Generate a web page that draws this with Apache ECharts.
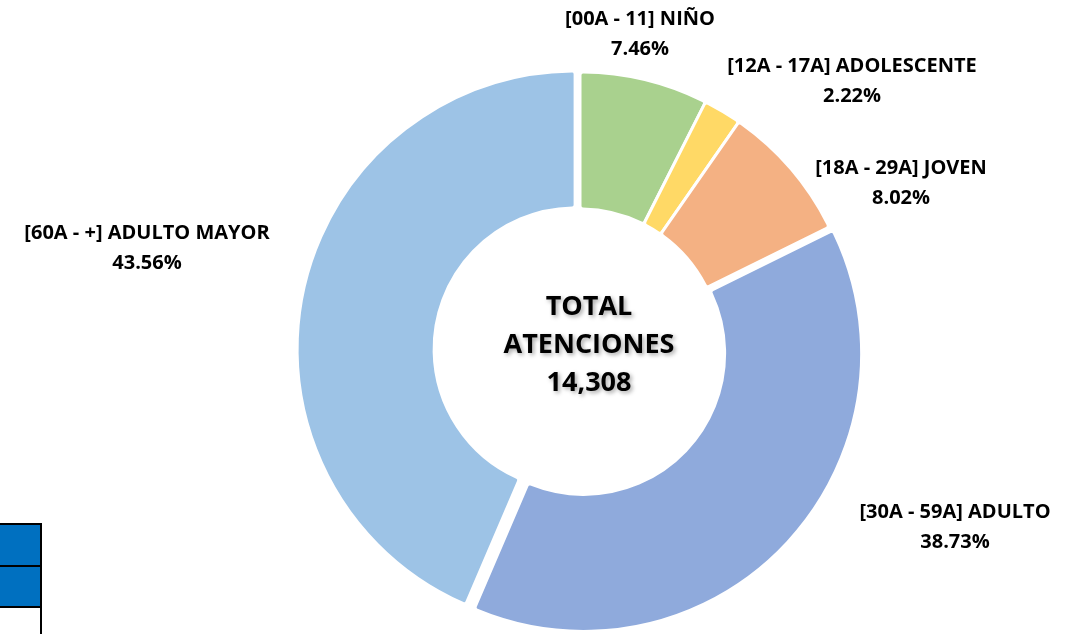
<!DOCTYPE html>
<html>
<head>
<meta charset="utf-8">
<script src="https://cdn.jsdelivr.net/npm/echarts@6/dist/echarts.min.js"></script>
<style>
  html, body { margin: 0; padding: 0; background: #fff; }
  #main { width: 1073px; height: 634px; }
</style>
</head>
<body>
<div id="main"></div>
<script>
// grupos de edad y atenciones
var categories = ['[00A - 11] NIÑO', '[12A - 17A] ADOLESCENTE', '[18A - 29A] JOVEN', '[30A - 59A] ADULTO', '[60A - +] ADULTO MAYOR'];
var values = [1067, 318, 1148, 5542, 6233];
var exploded = [false, false, false, true, true];
var colorList = ['#A9D18E', '#FFD966', '#F4B183', '#8FAADC', '#9DC3E6'];

// posicion de las etiquetas (como en el original)
var labelPos = [[640, 34], [852, 81], [901, 183], [955, 527], [147, 248]];

var total = values.reduce(function (a, b) { return a + b; }, 0);

var myChart = echarts.init(document.getElementById('main'));

var pieData = categories.map(function (name, i) {
  return {
    name: name,
    value: values[i],
    selected: exploded[i],
    itemStyle: { color: colorList[i] }
  };
});

// serie invisible solo para las etiquetas (no se desplaza con la seleccion)
var labelData = categories.map(function (name, i) {
  return { name: name, value: values[i] };
});

var ring = { radius: [141, 278], center: [580, 350], startAngle: 90, clockwise: true };

var option = {
  animation: false,
  title: {
    text: 'TOTAL\nATENCIONES\n' + total.toLocaleString('en-US'),
    left: 589,
    top: 288,
    padding: 0,
    textAlign: 'center',
    textStyle: {
      fontFamily: 'Open Sans',
      fontWeight: 'bold',
      fontSize: 27,
      lineHeight: 38,
      color: '#000',
      textShadowColor: 'rgba(0,0,0,0.35)',
      textShadowBlur: 4,
      textShadowOffsetX: 2,
      textShadowOffsetY: 2
    }
  },
  series: [{
    type: 'pie',
    radius: ring.radius,
    center: ring.center,
    startAngle: ring.startAngle,
    clockwise: ring.clockwise,
    selectedMode: 'multiple',
    selectedOffset: 5,
    emphasis: { disabled: true },
    itemStyle: {
      borderColor: '#fff',
      borderWidth: 3,
      borderRadius: 3
    },
    label: { show: false },
    labelLine: { show: false },
    data: pieData
  }, {
    type: 'pie',
    silent: true,
    radius: ring.radius,
    center: ring.center,
    startAngle: ring.startAngle,
    clockwise: ring.clockwise,
    emphasis: { disabled: true },
    itemStyle: { color: 'rgba(0,0,0,0)', borderWidth: 0 },
    label: {
      show: true,
      position: 'outside',
      fontFamily: 'Open Sans',
      fontWeight: 'bold',
      fontSize: 20,
      lineHeight: 30,
      color: '#000',
      align: 'center',
      formatter: function (p) {
        return p.name + '\n' + (p.value / total * 100).toFixed(2) + '%';
      }
    },
    labelLine: { show: false },
    labelLayout: function (p) {
      var pos = labelPos[p.dataIndex];
      return { x: pos[0], y: pos[1], align: 'center', verticalAlign: 'middle' };
    },
    data: labelData
  }],
  graphic: [
    { type: 'rect', shape: { x: -2, y: 524, width: 43, height: 42 }, style: { fill: '#0070C0', stroke: '#000', lineWidth: 2 } },
    { type: 'rect', shape: { x: -2, y: 566, width: 43, height: 41 }, style: { fill: '#0070C0', stroke: '#000', lineWidth: 2 } },
    { type: 'line', shape: { x1: 41, y1: 607, x2: 41, y2: 634 }, style: { stroke: '#000', lineWidth: 2 } }
  ]
};

myChart.setOption(option, true);
</script>
</body>
</html>
